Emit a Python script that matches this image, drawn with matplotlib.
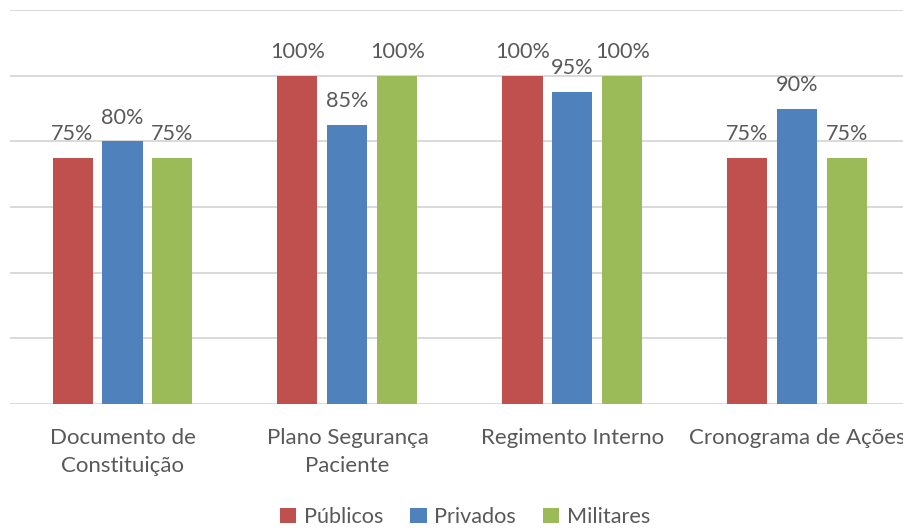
import numpy as np
import matplotlib.pyplot as plt

plt.rcParams['font.family'] = ['Lato', 'DejaVu Sans']

categorias = ['Documento de\nConstituição', 'Plano Segurança\nPaciente',
              'Regimento Interno', 'Cronograma de Ações']
series = ['Públicos', 'Privados', 'Militares']
publicos = [75, 100, 100, 75]
privados = [80, 85, 95, 90]
militares = [75, 100, 100, 75]
cores = ['#C0504D', '#4F81BD', '#9BBB59']
cinza = '#595959'
fs = 15.6

W, H = 904, 528
fig = plt.figure(figsize=(W / 100, H / 100), dpi=100)
# axes run a little past the right edge, so the last label gets cut
ax = fig.add_axes([10 / W, (H - 404) / H, 900 / W, 394 / H])

x = np.arange(len(categorias))
largura = 40 / 225
passo = 50 / 225

for i, (nome, vals) in enumerate(zip(series, [publicos, privados, militares])):
    pos = x + (i - 1) * passo
    barras = ax.bar(pos, vals, largura, color=cores[i], label=nome, zorder=3)
    for b, v in zip(barras, vals):
        ax.text(b.get_x() + b.get_width() / 2, v + 4.2, f'{v}%',
                ha='center', va='bottom', fontsize=fs, color=cinza)

ax.set_xlim(-0.5, 3.5)
ax.set_ylim(0, 120)
for y in range(0, 121, 20):
    ax.axhline(y, color='#D9D9D9', lw=1.4, zorder=1)
for s in ax.spines.values():
    s.set_visible(False)
ax.set_yticks([])
ax.set_xticks(x)
ax.set_xticklabels(categorias, fontsize=16, color=cinza, linespacing=1.5)
ax.tick_params(axis='x', length=0, pad=17)

ax.legend(loc='center', bbox_to_anchor=(455 / 900, -0.287),
          ncol=3, frameon=False, fontsize=fs, labelcolor=cinza,
          handlelength=0.75, handleheight=0.75, handletextpad=0.35,
          columnspacing=1.25, borderpad=0.1)

fig.savefig('out.png', dpi=100)
